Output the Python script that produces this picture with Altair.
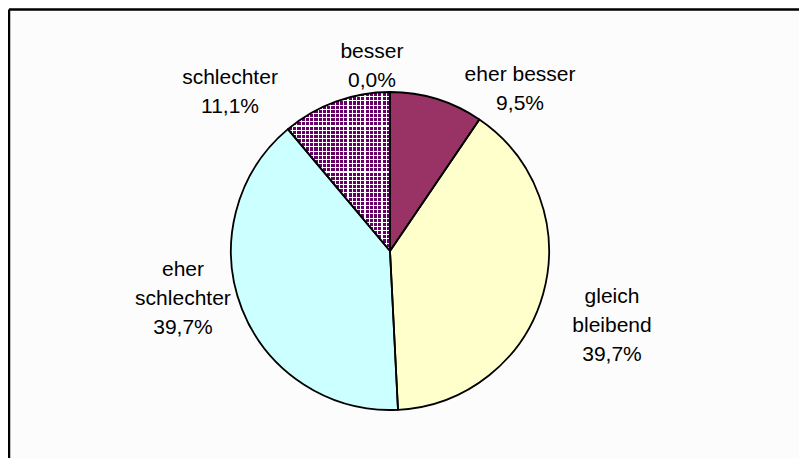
import math
import altair as alt
import pandas as pd

# ---- data ----
categories = ["besser", "eher besser", "gleich bleibend", "eher schlechter", "schlechter"]
values = [0.0, 9.5, 39.7, 39.7, 11.1]
slice_order = [0, 1, 2, 3, 4]
label_names = ["besser", "eher besser", "gleich\nbleibend", "eher\nschlechter", "schlechter"]

# ---- style / layout ----
colors = ["#333399", "#993366", "#FFFFCC", "#CCFFFF", "#FFFFFF"]
pattern_color = "#660066"
label_angle_pct = [98.56, 10.13, 28.25, 73.54, 88.12]   # first-line direction, % of full circle
label_radius_px = [199.8, 218.8, 226.7, 207.9, 235.6]

W, H = 791, 450
CX, CY, R = 382, 243, 159

df = pd.DataFrame({"cat": categories, "value": values, "order": slice_order})
labels_df = pd.DataFrame({
    "label": [f"{n}\n{v:.1f}".replace(".", ",") + "%" for n, v in zip(label_names, values)],
    "ang": label_angle_pct,
    "rad": label_radius_px,
})

theta_scale = alt.Scale(domain=[0, 100], range=[0, 2 * math.pi])

base = alt.Chart(df).transform_stack(
    stack="value", groupby=[], as_=["start", "end"],
    sort=[alt.SortField("order", order="ascending")],
)

def pos():
    return dict(
        theta=alt.Theta("start:Q", scale=theta_scale, stack=False),
        theta2="end:Q",
        x=alt.value(CX),
        y=alt.value(CY),
    )

fills = base.mark_arc(radius=R).encode(
    color=alt.Color("cat:N", scale=alt.Scale(domain=categories, range=colors), legend=None),
    **pos(),
)


def stripes(n, frac):
    stops = []
    for i in range(n):
        a, b, c = i / n, (i + frac) / n, (i + 1) / n
        stops += [
            {"offset": a, "color": "#ffffff"},
            {"offset": b, "color": "#ffffff"},
            {"offset": b, "color": "rgba(255,255,255,0)"},
            {"offset": min(c, 1.0), "color": "rgba(255,255,255,0)"},
        ]
    return stops

patt = base.transform_filter(alt.datum.cat == "schlechter")
p_base = patt.mark_arc(radius=R, fill=pattern_color).encode(**pos())
p_h = patt.mark_arc(
    radius=R,
    fill={"gradient": "linear", "x1": 0, "y1": 0, "x2": 0, "y2": 1, "stops": stripes(38, 0.25)},
).encode(**pos())
p_v = patt.mark_arc(
    radius=R,
    fill={"gradient": "linear", "x1": 0, "y1": 0, "x2": 1, "y2": 0, "stops": stripes(24, 0.25)},
).encode(**pos())

outline = base.mark_arc(radius=R, fillOpacity=0, stroke="black", strokeWidth=1.8,
                        strokeJoin="round").encode(**pos())

labels = alt.Chart(labels_df).mark_text(
    font="Liberation Sans", fontSize=21, lineHeight=29, lineBreak="\n",
    align="center", baseline="middle", color="black",
).encode(
    theta=alt.Theta("ang:Q", scale=theta_scale, stack=False),
    radius=alt.Radius("rad:Q", scale=None),
    text="label:N",
    x=alt.value(CX),
    y=alt.value(CY),
)

one = alt.Chart(pd.DataFrame({"a": [0]}))
frame_top = one.mark_rule(color="black", strokeWidth=2.5).encode(
    x=alt.value(1), x2=alt.value(W), y=alt.value(1.5))
frame_left = one.mark_rule(color="black", strokeWidth=2.5).encode(
    x=alt.value(1), y=alt.value(1.5), y2=alt.value(H))

chart = alt.layer(fills, p_base, p_h, p_v, outline, labels, frame_top, frame_left).properties(
    width=W, height=H, padding=0,
    autosize=alt.AutoSizeParams(type="none"),
    background="#fcfcfc",
).configure_view(stroke=None)

chart.save("out.html", embed_options={"renderer": "svg", "actions": False})
